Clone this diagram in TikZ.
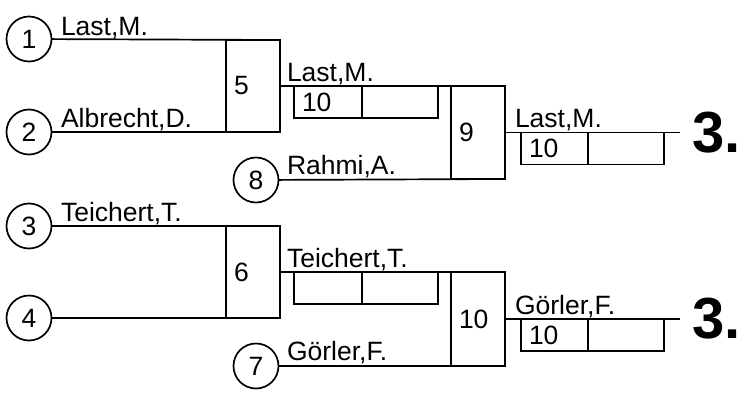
\documentclass[tikz,border=0pt]{standalone}
\usepackage{fontspec}
\setmainfont{Liberation Sans}
\begin{document}
\begin{tikzpicture}[x=1pt,y=-1pt,line width=1.7pt,
    every node/.style={outer sep=0pt,font=\fontsize{26.5}{30}\selectfont},
    seed/.style={circle,draw,minimum size=45pt,inner sep=0pt},
    match/.style={draw,minimum height=92pt,text width=38pt,inner xsep=8pt,inner ysep=0pt},
    cell/.style={draw,anchor=north west,minimum height=32pt,inner xsep=8pt,inner ysep=0pt},
    player/.style={anchor=base west,inner sep=0pt},
    place/.style={anchor=west,inner xsep=12pt,inner ysep=0pt,font=\bfseries\fontsize{58}{60}\selectfont}]
      \useasboundingbox (0,0) rectangle (740,394);

      \node[seed] (s1) at (29,39) {1};
      \node[seed] (s2) at (29,132) {2};
      \node[seed] (s3) at (29,226) {3};
      \node[seed] (s4) at (29,318) {4};
      \node[seed] (s8) at (256,180) {8};
      \node[seed] (s7) at (256,366) {7};

      \node[match] (m5) at (253,86) {5};
      \node[match] (m6) at (253,272) {6};
      \node[match,minimum height=93pt] (m9) at (478,132.5) {9};
      \node[match,minimum height=94pt] (m10) at (478,319) {10};

      \node[cell,text width=52pt] (r5a) at (294,86) {10};
      \node[cell,minimum width=76pt] (r5b) at (r5a.north east) {};
      \node[cell,text width=52pt] (r6a) at (294,272) {};
      \node[cell,minimum width=76pt] (r6b) at (r6a.north east) {};
      \node[cell,text width=51pt] (r9a) at (521,132.5) {10};
      \node[cell,minimum width=76pt] (r9b) at (r9a.north east) {};
      \node[cell,text width=51pt] (r10a) at (521,319) {10};
      \node[cell,minimum width=76pt] (r10b) at (r10a.north east) {};

      \node[place] (p9) at (680,132.5) {3.};
      \node[place] (p10) at (680,319) {3.};

      \node[player] (n1) at (61,35) {Last,M.};
      \node[player] (n2) at (61,127) {Albrecht,D.};
      \node[player] (n3) at (61,221) {Teichert,T.};
      \node[player] (n5) at (287,81) {Last,M.};
      \node[player] (n8) at (287,174) {Rahmi,A.};
      \node[player] (n6) at (287,267) {Teichert,T.};
      \node[player] (n7) at (287,360) {Görler,F.};
      \node[player] (n9) at (515,127.5) {Last,M.};
      \node[player] (n10) at (515,314) {Görler,F.};

      \draw (s1) -- (m5.north east);
      \draw (s2) -- (m5.south east);
      \draw (s3) -- (m6.north east);
      \draw (s4) -- (m6.south east);
      \draw (s8) -- (m9.south east);
      \draw (s7) -- (m10.south east);

      \draw (m5.east) -- (m9.north west);
      \draw (m6.east) -- (m10.north west);
      \draw (m9.east) -- (p9);
      \draw (m10.east) -- (p10);

    \end{tikzpicture}
\end{document}
